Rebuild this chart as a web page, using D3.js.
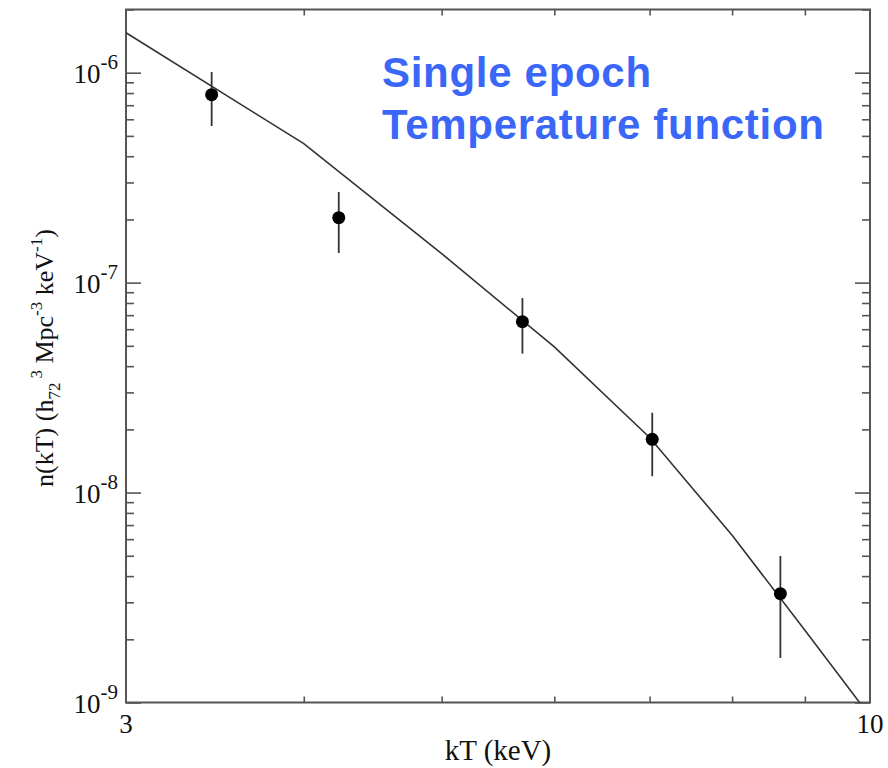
<!DOCTYPE html>
<html>
<head>
<meta charset="utf-8">
<script src="https://cdn.jsdelivr.net/npm/d3@7"></script>
<style>
  html, body { margin: 0; padding: 0; background: #fff; }
  svg { display: block; }
</style>
</head>
<body>
<svg id="chart" width="888" height="768"></svg>
<script>
// Measured cluster temperature function (points with 1-sigma bars)
const kT    = [3.446, 4.233, 5.698, 7.03, 8.65];
const nVal  = [7.86e-7, 2.04e-7, 6.52e-8, 1.794e-8, 3.30e-9];
const nHigh = [1.007e-6, 2.70e-7, 8.44e-8, 2.40e-8, 4.99e-9];
const nLow  = [5.57e-7, 1.384e-7, 4.59e-8, 1.196e-8, 1.63e-9];

// Model curve
const modelKT = [3, 4, 5, 6, 7, 8, 9, 10];
const modelN  = [1.55e-6, 4.59e-7, 1.375e-7, 4.94e-8, 1.83e-8, 6.26e-9, 2.21e-9, 8.6e-10];

// Axis ticks
const xDomain = [3, 10];
const yDomain = [1e-9, 2e-6];
const xMinorTicks = [4, 5, 6, 7, 8, 9];
const xLabelTicks = [3, 10];
const yMajorTicks = [1e-9, 1e-8, 1e-7, 1e-6];
const yMajorExp = ["-9", "-8", "-7", "-6"];

const titleLines = ["Single epoch", "Temperature function"];

const svg = d3.select("#chart");
const plotLeft = 126, plotRight = 870, plotTop = 9.5, plotBottom = 702.5;

const x = d3.scaleLog().domain(xDomain).range([plotLeft, plotRight]);
const y = d3.scaleLog().domain(yDomain).range([plotBottom, plotTop]);

const serif = "'Liberation Serif', 'Times New Roman', serif";
const axisColor = "#555";

// minor y ticks: 2..9 in each decade
const yMinorTicks = [];
for (let e = -9; e <= -6; e++) {
  for (let m = 2; m <= 9; m++) {
    const v = m * Math.pow(10, e);
    if (v <= yDomain[1] * 1.0001) yMinorTicks.push(v);
  }
}

function styleAxis(g) {
  g.select(".domain").remove();
  g.selectAll(".tick line").attr("stroke", axisColor).attr("stroke-width", 1.6);
  g.selectAll(".tick text").remove();
}

// Left axis ticks (inward)
svg.append("g").attr("transform", `translate(${plotLeft},0)`)
  .call(d3.axisRight(y).tickValues(yMinorTicks).tickSize(8).tickFormat(""))
  .call(styleAxis);
svg.append("g").attr("transform", `translate(${plotLeft},0)`)
  .call(d3.axisRight(y).tickValues(yMajorTicks).tickSize(15).tickFormat(""))
  .call(styleAxis);
// Right axis ticks (inward)
svg.append("g").attr("transform", `translate(${plotRight},0)`)
  .call(d3.axisLeft(y).tickValues(yMinorTicks).tickSize(8).tickFormat(""))
  .call(styleAxis);
svg.append("g").attr("transform", `translate(${plotRight},0)`)
  .call(d3.axisLeft(y).tickValues(yMajorTicks).tickSize(15).tickFormat(""))
  .call(styleAxis);
// Bottom and top x ticks (inward)
svg.append("g").attr("transform", `translate(0,${plotBottom})`)
  .call(d3.axisTop(x).tickValues(xMinorTicks).tickSize(6).tickFormat(""))
  .call(styleAxis);
svg.append("g").attr("transform", `translate(0,${plotTop})`)
  .call(d3.axisBottom(x).tickValues(xMinorTicks).tickSize(6).tickFormat(""))
  .call(styleAxis);

// Frame
svg.append("rect")
  .attr("x", plotLeft).attr("y", plotTop)
  .attr("width", plotRight - plotLeft).attr("height", plotBottom - plotTop)
  .attr("fill", "none").attr("stroke", axisColor).attr("stroke-width", 2);

// Y tick labels: 10^exp
yMajorTicks.forEach((v, i) => {
  const t = svg.append("text")
    .attr("x", 118).attr("y", y(v) + 10)
    .attr("text-anchor", "end")
    .attr("font-family", serif).attr("font-size", 27).attr("fill", "#111");
  t.append("tspan").text("10");
  t.append("tspan").attr("dy", -14).attr("font-size", 21).text(yMajorExp[i]);
});

// X tick labels
xLabelTicks.forEach(v => {
  svg.append("text")
    .attr("x", x(v)).attr("y", 733)
    .attr("text-anchor", "middle")
    .attr("font-family", serif).attr("font-size", 27).attr("fill", "#111")
    .text(v);
});

// X axis title
svg.append("text")
  .attr("x", (plotLeft + plotRight) / 2).attr("y", 760)
  .attr("text-anchor", "middle")
  .attr("font-family", serif).attr("font-size", 29).attr("fill", "#111")
  .text("kT (keV)");

// Y axis title
const yt = svg.append("text")
  .attr("transform", "translate(53,358) rotate(-90)")
  .attr("text-anchor", "middle")
  .attr("font-family", serif).attr("font-size", 26).attr("fill", "#111");
yt.append("tspan").text("n(kT) (h");
yt.append("tspan").attr("font-size", 17).attr("dy", 7).text("72");
yt.append("tspan").attr("font-size", 17).attr("dy", -18).attr("dx", 4).text("3");
yt.append("tspan").attr("dy", 11).text(" Mpc");
yt.append("tspan").attr("font-size", 17).attr("dy", -11).text("-3");
yt.append("tspan").attr("dy", 11).text(" keV");
yt.append("tspan").attr("font-size", 17).attr("dy", -11).text("-1");
yt.append("tspan").attr("dy", 11).text(")");

// Clip for the model curve
svg.append("clipPath").attr("id", "plot-clip")
  .append("rect").attr("x", plotLeft).attr("y", plotTop)
  .attr("width", plotRight - plotLeft).attr("height", plotBottom - plotTop);

const line = d3.line().x(d => x(d[0])).y(d => y(d[1]));
svg.append("path")
  .datum(modelKT.map((k, i) => [k, modelN[i]]))
  .attr("clip-path", "url(#plot-clip)")
  .attr("d", line)
  .attr("fill", "none").attr("stroke", "#333").attr("stroke-width", 1.6);

// Error bars and points
const pts = kT.map((k, i) => ({k, v: nVal[i], hi: nHigh[i], lo: nLow[i]}));
svg.append("g").selectAll("line").data(pts).join("line")
  .attr("x1", d => x(d.k)).attr("x2", d => x(d.k))
  .attr("y1", d => y(d.hi)).attr("y2", d => y(d.lo))
  .attr("stroke", "#333").attr("stroke-width", 1.8);
svg.append("g").selectAll("circle").data(pts).join("circle")
  .attr("cx", d => x(d.k)).attr("cy", d => y(d.v))
  .attr("r", 6.5).attr("fill", "#000");

// Annotation
const title = svg.append("text")
  .attr("font-family", "'Liberation Sans', Arial, sans-serif")
  .attr("font-weight", "bold").attr("font-size", 42)
  .attr("letter-spacing", 0.7)
  .attr("fill", "#3a67f7");
titleLines.forEach((s, i) => {
  title.append("tspan").attr("x", 382).attr("y", 87 + i * 51.5).text(s);
});
</script>
</body>
</html>
